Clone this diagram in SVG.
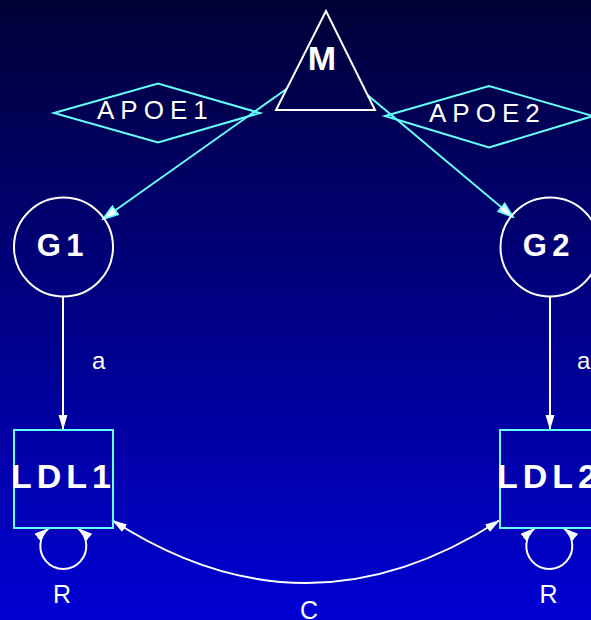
<svg xmlns="http://www.w3.org/2000/svg" width="591" height="620" viewBox="0 0 591 620">
<defs>
<linearGradient id="bg" x1="0" y1="0" x2="0" y2="1">
<stop offset="0" stop-color="#000036"/>
<stop offset="1" stop-color="#0000d4"/>
</linearGradient>
<marker id="ac" markerUnits="userSpaceOnUse" markerWidth="18" markerHeight="12" refX="15" refY="5" orient="auto" viewBox="-1 -1 18 12">
<path d="M0,0 L15,5 L0,10 z" fill="#ffffff" stroke="#66ffff" stroke-width="1.8" stroke-linejoin="miter"/>
</marker>
<marker id="aw" markerUnits="userSpaceOnUse" markerWidth="16" markerHeight="10" refX="15" refY="4.5" orient="auto-start-reverse" viewBox="0 0 16 10">
<path d="M0,0 L15,4.5 L0,9 z" fill="#ffffff"/>
</marker>
</defs>
<style>
.t{font-family:"Liberation Sans",Arial,sans-serif;fill:#ffffff}
.b{font-weight:bold}
.cy{fill:none;stroke:#66ffff;stroke-width:2}
.wh{fill:none;stroke:#ffffff;stroke-width:2}
</style>
<rect x="0" y="0" width="591" height="620" fill="url(#bg)"/>

<g id="connectors">
<line class="cy" x1="286.5" y1="89" x2="103" y2="219" stroke-width="2" marker-end="url(#ac)"/>
<line class="cy" x1="367.5" y1="95" x2="513" y2="217" marker-end="url(#ac)"/>
<line class="wh" x1="63" y1="296" x2="63" y2="430" marker-end="url(#aw)"/>
<line class="wh" x1="550" y1="296" x2="550" y2="430" marker-end="url(#aw)"/>
<path class="wh" d="M 112 520 Q 306 646 500 520" marker-start="url(#aw)" marker-end="url(#aw)"/>
<path class="wh" d="M 49 528 A 23 23 0 1 0 77.6 528" marker-start="url(#aw)" marker-end="url(#aw)"/>
<path class="wh" d="M 535 528 A 23 23 0 1 0 563.6 528" marker-start="url(#aw)" marker-end="url(#aw)"/>
<text class="t" x="92" y="369" font-size="24">a</text>
<text class="t" x="577" y="369" font-size="24">a</text>
<text class="t" x="62" y="603" font-size="25" text-anchor="middle">R</text>
<text class="t" x="548.5" y="603" font-size="25" text-anchor="middle">R</text>
<text class="t" x="309" y="619" font-size="25" text-anchor="middle">C</text>
</g>

<g id="M">
<polygon class="wh" points="326,11 276,110 375,110"/>
<text class="t b" x="322" y="70" font-size="34" text-anchor="middle">M</text>
</g>

<g id="APOE1">
<polygon class="cy" points="54,113 158,83.5 260,113 158,142.5"/>
<text class="t" x="97" y="119" font-size="26" letter-spacing="6">APOE1</text>
</g>

<g id="APOE2">
<polygon class="cy" points="385,116 489,86 593,116 489,147.5"/>
<text class="t" x="429" y="122" font-size="26" letter-spacing="6">APOE2</text>
</g>

<g id="G1">
<circle class="wh" cx="63.5" cy="247" r="49.5"/>
<text class="t b" x="36.7" y="256" font-size="31" letter-spacing="5.5">G1</text>
</g>

<g id="G2">
<circle class="wh" cx="550" cy="247" r="49.5"/>
<text class="t b" x="522.7" y="256" font-size="31" letter-spacing="5.5">G2</text>
</g>

<g id="LDL1">
<rect class="cy" x="14" y="430" width="99" height="98"/>
<text class="t b" x="11" y="488" font-size="34" letter-spacing="5">LDL1</text>
</g>

<g id="LDL2">
<rect class="cy" x="500" y="430" width="99" height="98"/>
<text class="t b" x="497" y="488" font-size="34" letter-spacing="5">LDL2</text>
</g>
</svg>
